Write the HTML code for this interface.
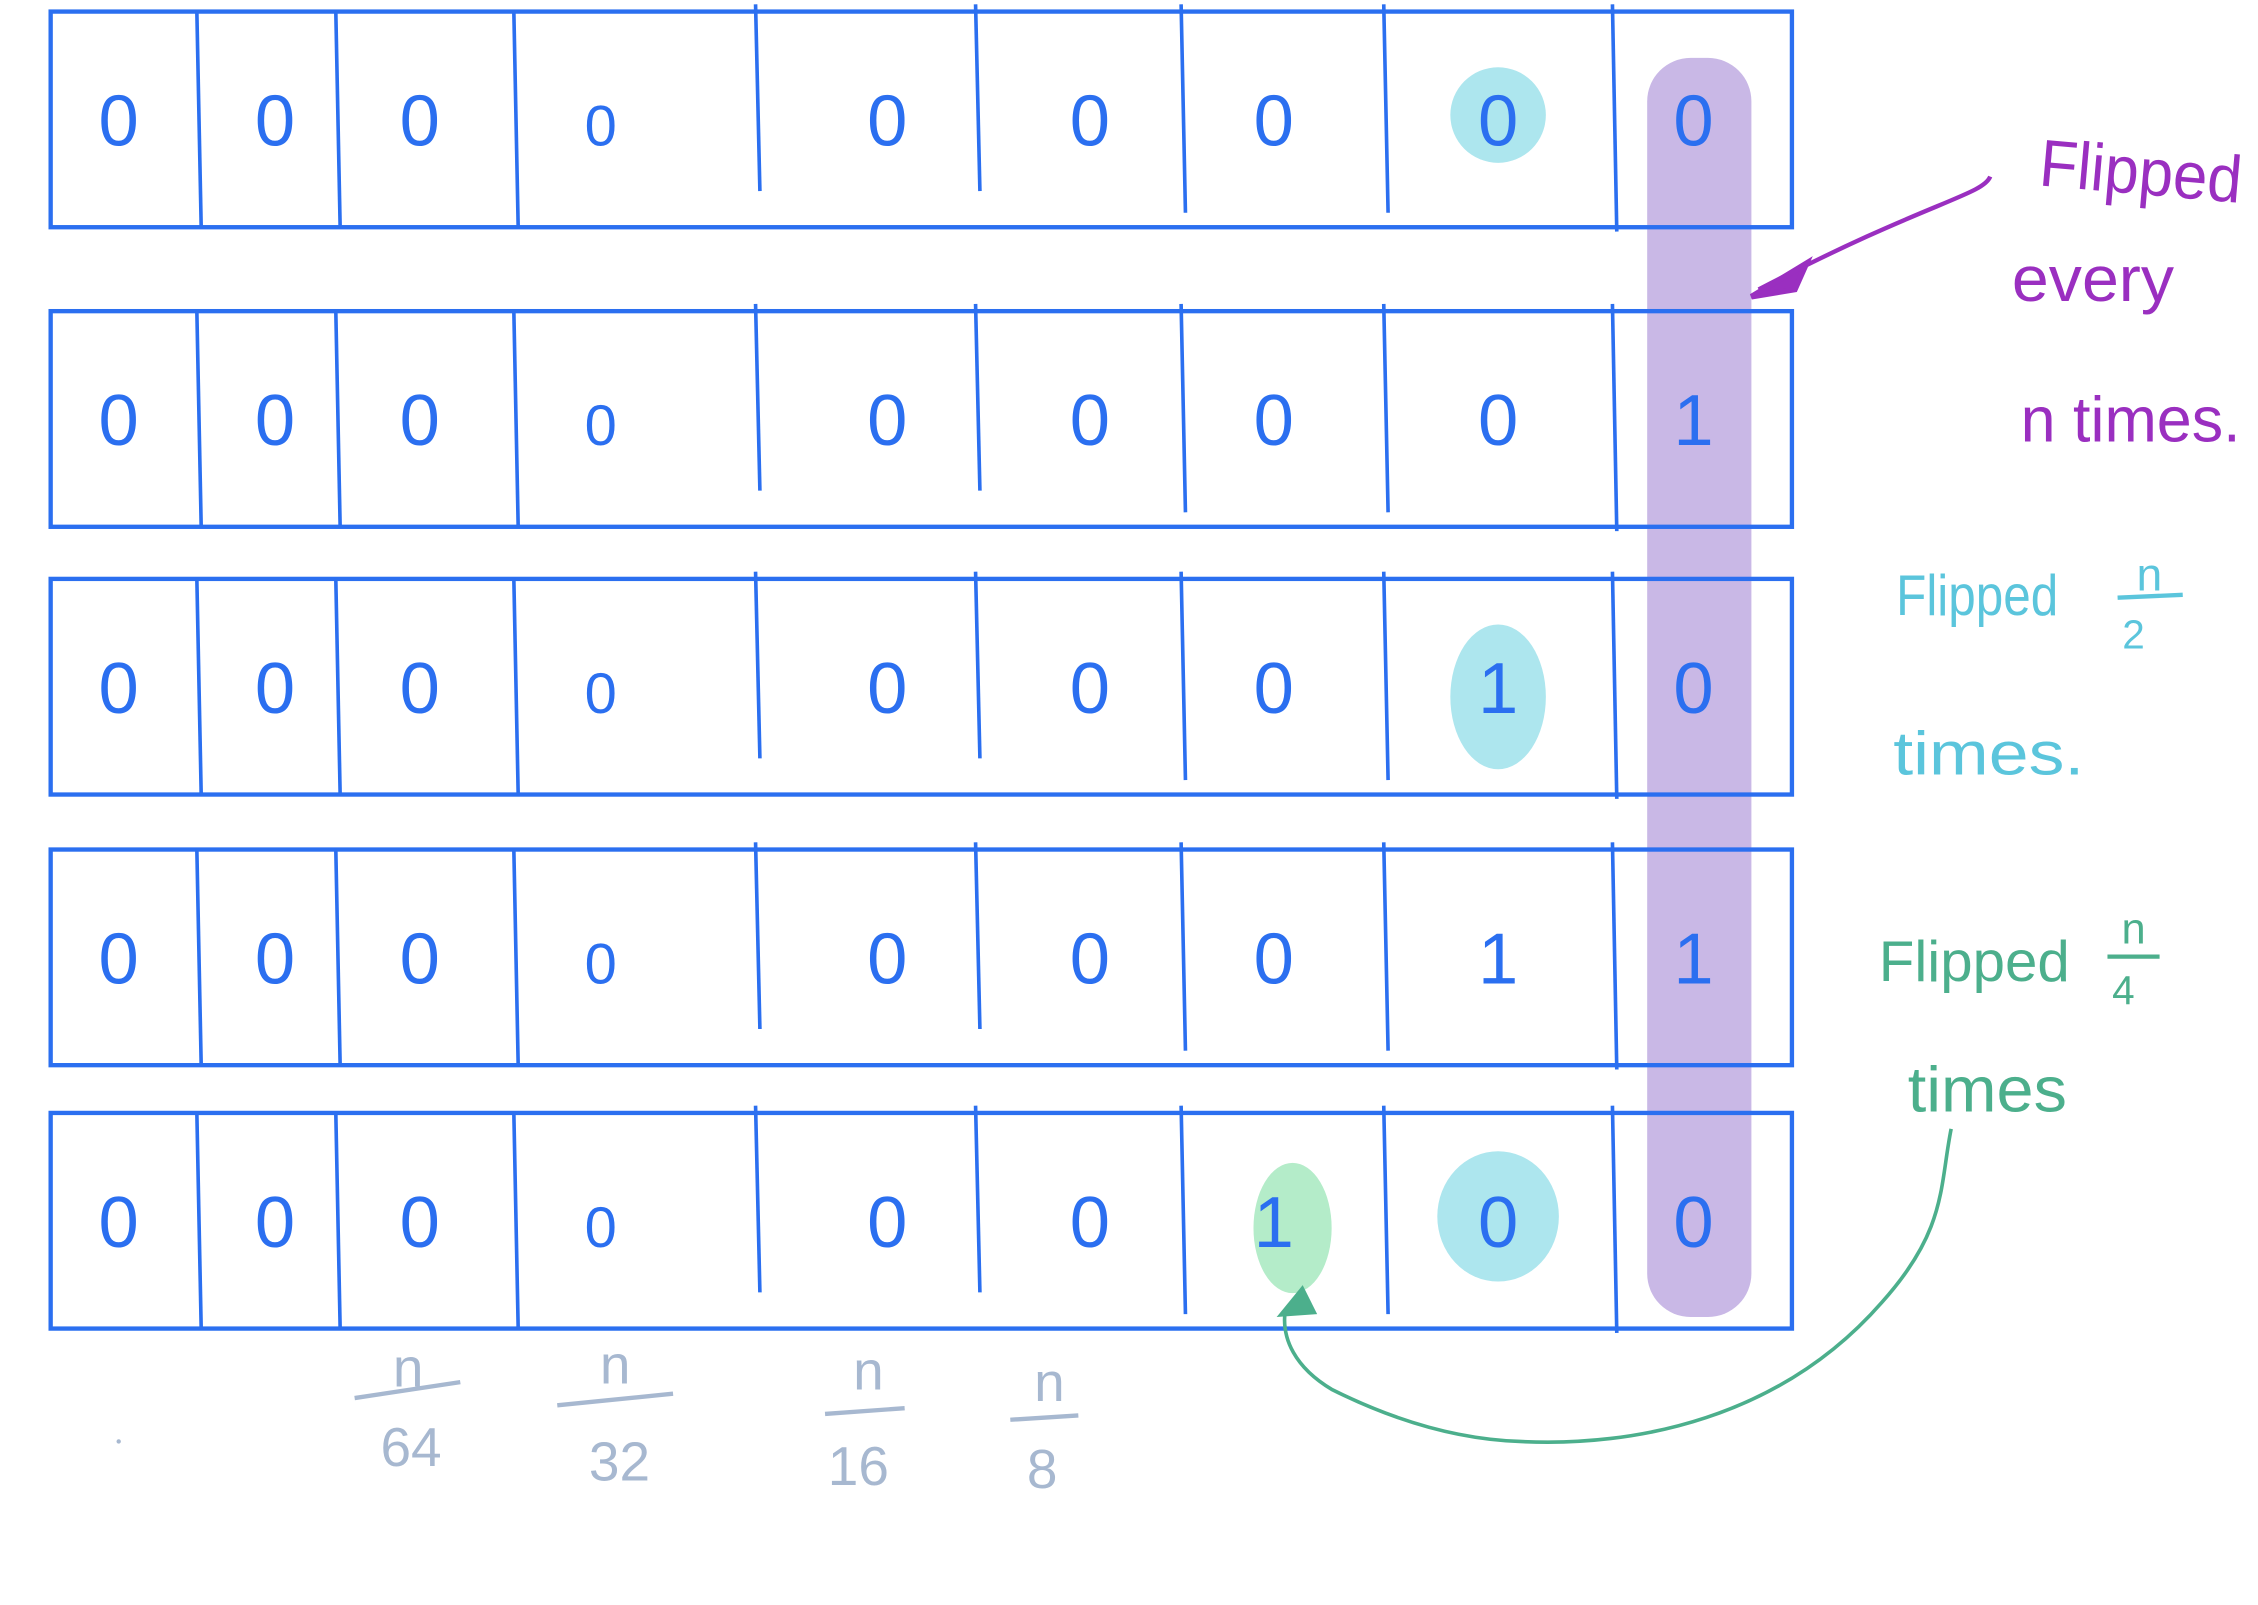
<!DOCTYPE html>
<html><head><meta charset="utf-8">
<style>
html,body{margin:0;padding:0;background:#fff;}
svg{display:block;}
text{font-family:"Liberation Sans",sans-serif;}
</style></head>
<body>
<svg id="chart" width="2258" height="1605" viewBox="0 0 1560 1109" preserveAspectRatio="none" xmlns="http://www.w3.org/2000/svg">
  <rect width="1560" height="1109" fill="#fff"/>
  <g id="highlights"></g>
  <g id="grid"></g>
  <g id="digits"></g>
  <g fill="#9a2fc0">
    <text x="1408" y="128" font-size="46" textLength="140" lengthAdjust="spacingAndGlyphs" transform="rotate(5 1408 128)">Flipped</text>
    <text x="1390" y="208" font-size="44" textLength="112" lengthAdjust="spacingAndGlyphs">every</text>
    <text x="1396" y="305" font-size="44" textLength="152" lengthAdjust="spacingAndGlyphs">n  times.</text>
  </g>
  <path d="M1375 122 C1370 135 1330 140 1215 200" stroke="#9a2fc0" stroke-width="3" fill="none"/>
  <path d="M1210 205 L1248 182 L1240 200 Z" fill="#9a2fc0" stroke="#9a2fc0" stroke-width="4"/>
  <g fill="#5bc5dc">
    <text x="1310" y="425" font-size="40" textLength="112" lengthAdjust="spacingAndGlyphs">Flipped</text>
    <text x="1485" y="408" font-size="32" text-anchor="middle">n</text>
    <line x1="1463" y1="413" x2="1508" y2="411" stroke="#5bc5dc" stroke-width="3"/>
    <text x="1474" y="448" font-size="28" text-anchor="middle">2</text>
    <text x="1308" y="535" font-size="42" textLength="132" lengthAdjust="spacingAndGlyphs">times.</text>
  </g>
  <g fill="#4caf8c">
    <text x="1298" y="678" font-size="40" textLength="132" lengthAdjust="spacingAndGlyphs">Flipped</text>
    <text x="1474" y="652" font-size="30" text-anchor="middle">n</text>
    <line x1="1456" y1="661" x2="1492" y2="661" stroke="#4caf8c" stroke-width="3"/>
    <text x="1467" y="694" font-size="28" text-anchor="middle">4</text>
    <text x="1318" y="768" font-size="44" textLength="110" lengthAdjust="spacingAndGlyphs">times</text>
  </g>
  <path d="M1348 780 C1340 820 1345 850 1300 900 C1230 980 1130 1000 1050 996 C990 994 940 970 920 960 C895 945 885 925 888 905" stroke="#4caf8c" stroke-width="2.5" fill="none"/>
  <path d="M882 910 L900 888 L910 908 Z" fill="#4caf8c"/>
  <g fill="#a7b8d0" font-size="38" text-anchor="middle">
    <text x="282" y="958">n</text><line x1="245" y1="966" x2="318" y2="955" stroke="#a7b8d0" stroke-width="3"/><text x="284" y="1013">64</text>
    <text x="425" y="956">n</text><line x1="385" y1="971" x2="465" y2="963" stroke="#a7b8d0" stroke-width="3"/><text x="428" y="1023">32</text>
    <text x="600" y="960">n</text><line x1="570" y1="977" x2="625" y2="973" stroke="#a7b8d0" stroke-width="3"/><text x="593" y="1026">16</text>
    <text x="725" y="968">n</text><line x1="698" y1="981" x2="745" y2="978" stroke="#a7b8d0" stroke-width="3"/><text x="720" y="1028">8</text>
    <circle cx="82" cy="996" r="1.5"/>
  </g>
</svg>
<script>
const rowBits = [
  [0,0,0,0,0,0,0,0,0],
  [0,0,0,0,0,0,0,0,1],
  [0,0,0,0,0,0,0,1,0],
  [0,0,0,0,0,0,0,1,1],
  [0,0,0,0,0,0,1,0,0]
];
const cyanCells = [[0,7],[2,7],[4,7]];
const greenCells = [[4,6]];
const highlightColumn = 8;

const NS = "http://www.w3.org/2000/svg";
const rowTop = [8,215,400,587,769];
const rowH = 149;
const left = 35, right = 1238;
const dividers = [138,234,357,524,676,818,958,1116];
const cellCenters = [82,190,290,415,613,753,880,1035,1170];
const blue = "#2b6ff0";

const hl = document.getElementById('highlights');
const grid = document.getElementById('grid');
const dg = document.getElementById('digits');

const band = document.createElementNS(NS,'rect');


band.setAttribute('x', cellCenters[highlightColumn]-32);
band.setAttribute('y', 40);
band.setAttribute('width', 72);
band.setAttribute('height', 870);
band.setAttribute('rx', 30);
band.setAttribute('fill', '#c9b8e6');
hl.appendChild(band);

cyanCells.forEach(function(c){
  const e = document.createElementNS(NS,'ellipse');
  
  
  e.setAttribute('cx', cellCenters[c[1]]);
  e.setAttribute('cy', rowTop[c[0]] + rowH/2 + (c[0]===2?7:-3));
  e.setAttribute('rx', c[0]===4?42:33);
  e.setAttribute('ry', c[0]===0?33:(c[0]===2?50:45));
  e.setAttribute('fill', '#ade6ee');
  hl.appendChild(e);
});
greenCells.forEach(function(c){
  const e = document.createElementNS(NS,'ellipse');
  
  
  e.setAttribute('cx', cellCenters[c[1]]+13);
  e.setAttribute('cy', rowTop[c[0]] + rowH/2 + 5);
  e.setAttribute('rx', 27);
  e.setAttribute('ry', 45);
  e.setAttribute('fill', '#b4ecc9');
  hl.appendChild(e);
});

rowBits.forEach(function(bits, r){
  const y = rowTop[r];
  const box = document.createElementNS(NS,'rect');
  
  
  box.setAttribute('x', left);
  box.setAttribute('y', y);
  box.setAttribute('width', right-left);
  box.setAttribute('height', rowH);
  box.setAttribute('fill', 'none');
  box.setAttribute('stroke', blue);
  box.setAttribute('stroke-width', 3);
  grid.appendChild(box);
  dividers.forEach(function(x, i){
    const l = document.createElementNS(NS,'line');
    
    
    l.setAttribute('x1', x-2);
    l.setAttribute('y1', y + (i>=3 ? -5 : 0));
    l.setAttribute('x2', x+1);
    l.setAttribute('y2', y + rowH + (i===7 ? 3 : (i===3||i===4 ? -25 : (i>=5 ? -10 : 0))));
    l.setAttribute('stroke', blue);
    l.setAttribute('stroke-width', 2.5);
    grid.appendChild(l);
  });
  bits.forEach(function(b, i){
    const t = document.createElementNS(NS,'text');
    
    
    t.setAttribute('x', cellCenters[i]);
    t.setAttribute('y', y + rowH/2 + 18);
    t.setAttribute('text-anchor', 'middle');
    t.setAttribute('font-size', i===3 ? 40 : 50);
    t.setAttribute('fill', blue);
    t.textContent = String(b);
    dg.appendChild(t);
  });
});
</script>
</body></html>
